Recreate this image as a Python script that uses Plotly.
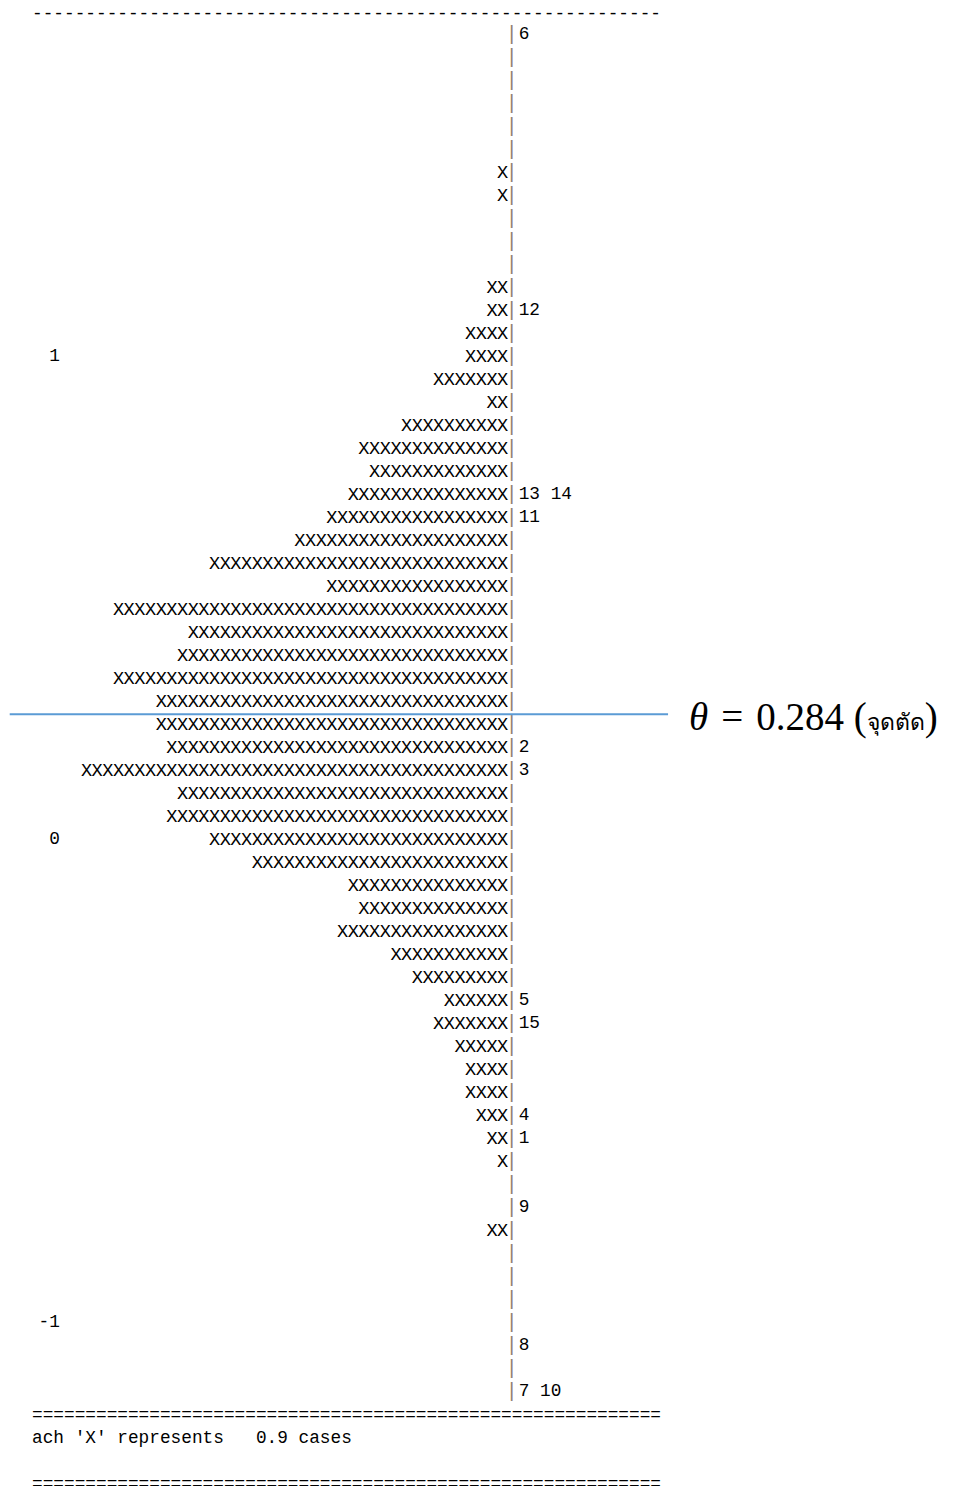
import numpy as np
import plotly.graph_objects as go

# Person ability distribution: number of 'X' per row (each X = 0.9 cases), top row first
x_counts = [0, 0, 0, 0, 0, 0, 1, 1, 0, 0,
            0, 2, 2, 4, 4, 7, 2, 10, 14, 13,
            15, 17, 20, 28, 17, 37, 30, 31, 37, 33,
            33, 32, 40, 31, 32, 28, 24, 15, 14, 16,
            11, 9, 6, 7, 5, 4, 4, 3, 2, 1,
            0, 0, 2, 0, 0, 0, 0, 0, 0, 0]

# Item difficulties printed to the right of the bar (row index, item numbers)
item_rows = [0, 12, 20, 21, 31, 32, 42, 43, 47, 48, 51, 57, 59]
item_text = ["6", "12", "13 14", "11", "2", "3", "5", "15", "4", "1", "9", "8", "7 10"]

# Logit scale labels
scale_values = [1, 0, -1]
scale_text = ["1", "0", "-1"]

cut_score = 0.284
cut_label = ("<i>θ</i>\u200a = \u200a0.284 "
             "(<span style='font-size:23px'>จุดตัด</span>)")
footer_text = "ach 'X' represents   0.9 cases"

# Each printed row is a logit bin of width 1/21; row centres step down from the top
bin_w = 1.0 / 21
n_rows = len(x_counts)
top_centre = 1 + 14.5 * bin_w
row_y = top_centre - bin_w * np.arange(n_rows)

MONO = "Liberation Mono, DejaVu Sans Mono, monospace"
FS = 17.78
INK = "#000000"
PIPE = "#8f8172"

fig = go.Figure()

# X marks, one character per cell to the left of the axis
xs, ys = [], []
for y, c in zip(row_y, x_counts):
    for k in range(1, c + 1):
        xs.append(-(k - 0.5))
        ys.append(y)
fig.add_trace(go.Scatter(x=xs, y=ys, mode="text", text=["X"] * len(xs),
                         textposition="middle center",
                         textfont=dict(family=MONO, size=18.6, color=INK),
                         hoverinfo="skip", showlegend=False))

# Vertical axis drawn as a column of '|'
fig.add_trace(go.Scatter(x=[0.35] * n_rows, y=row_y, mode="text", text=["|"] * n_rows,
                         textposition="middle center",
                         textfont=dict(family=MONO, size=FS + 2, color=PIPE),
                         hoverinfo="skip", showlegend=False))

# Item numbers
fig.add_trace(go.Scatter(x=[1.0] * len(item_rows), y=row_y[item_rows], mode="text",
                         text=item_text, textposition="middle right",
                         textfont=dict(family=MONO, size=FS, color=INK),
                         hoverinfo="skip", showlegend=False))

# Scale labels sit on the row whose bin contains the value
scale_rows = [int(np.argmin(np.abs(row_y - bin_w / 2 - v))) for v in scale_values]
fig.add_trace(go.Scatter(x=[-42.0] * len(scale_rows), y=row_y[scale_rows], mode="text",
                         text=scale_text, textposition="middle left",
                         textfont=dict(family=MONO, size=FS, color=INK),
                         hoverinfo="skip", showlegend=False))

# Cut score line
fig.add_trace(go.Scatter(x=[-46.7, 15.0], y=[cut_score, cut_score], mode="lines",
                         line=dict(color="#5b9bd5", width=2),
                         hoverinfo="skip", showlegend=False))
fig.add_annotation(x=16.8, y=cut_score, xref="x", yref="y", yshift=-3, text=cut_label,
                   showarrow=False, xanchor="left", yanchor="middle",
                   font=dict(family="Liberation Serif, DejaVu Serif, serif", size=39, color="#000"))

# Frame lines and footer
frame_x = -44.8
frame = [(-0.9, "-" * 59), (60, "=" * 59), (61, footer_text), (63, "=" * 59)]
for r, txt in frame:
    fig.add_annotation(x=frame_x, y=top_centre - bin_w * r, xref="x", yref="y", text=txt,
                       showarrow=False, xanchor="left", yanchor="middle",
                       font=dict(family=MONO, size=FS, color=INK))

px_per_col = 10.67
x_left = -508 / px_per_col
x_right = (956 - 508) / px_per_col
y_top = top_centre + 35 / 483
y_bottom = top_centre - (1486 - 35) / 483

fig.update_layout(width=956, height=1486, margin=dict(l=0, r=0, t=0, b=0),
                  paper_bgcolor="white", plot_bgcolor="white")
fig.update_xaxes(range=[x_left, x_right], visible=False, fixedrange=True)
fig.update_yaxes(range=[y_bottom, y_top], visible=False, fixedrange=True)

fig.write_html("out.html")
